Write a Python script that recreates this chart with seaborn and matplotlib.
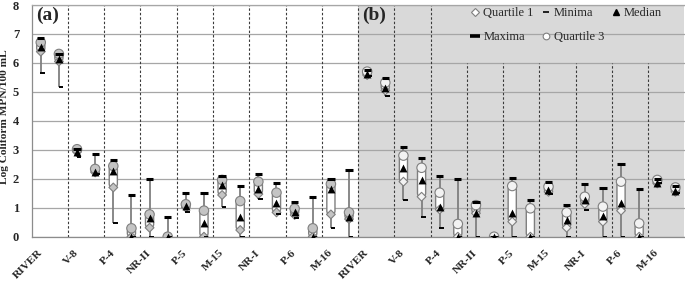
import numpy as np
import pandas as pd
import matplotlib
matplotlib.use("Agg")
import matplotlib.pyplot as plt
import seaborn as sns
from matplotlib.patches import FancyBboxPatch
from matplotlib.lines import Line2D

# ---------------- data ----------------
sites = ["RIVER", "V-8", "P-4", "NR-II", "P-5", "M-15", "NR-I", "P-6", "M-16"]

maxima_a = [6.87, 6.30, 3.03, 2.84, 2.65, 1.44, 1.98, 0.69, 1.50, 1.52, 2.11, 1.75, 2.16, 1.86, 1.21, 1.38, 1.98, 2.32]
q3_a     = [6.71, 6.31, 3.02, 2.34, 2.44, 0.29, 0.77, 0.00, 1.12, 0.90, 1.96, 1.23, 1.90, 1.52, 0.97, 0.29, 1.82, 0.84]
median_a = [6.54, 6.12, 2.93, 2.25, 2.28, 0.00, 0.63, 0.00, 1.05, 0.48, 1.78, 0.67, 1.65, 1.17, 0.85, 0.00, 1.66, 0.69]
q1_a     = [6.39, 6.05, 2.93, 2.22, 1.70, 0.00, 0.31, 0.00, 1.01, 0.00, 1.44, 0.23, 1.47, 0.84, 0.75, 0.00, 0.77, 0.61]
minima_a = [5.66, 5.16, 2.75, 2.15, 0.48, 0.00, 0.00, 0.00, 0.87, 0.00, 1.04, 0.00, 1.29, 0.80, 0.63, 0.00, 0.29, 0.00]

maxima_b = [5.75, 5.49, 3.08, 2.73, 2.11, 1.98, 1.21, 0.00, 2.04, 1.27, 1.88, 1.09, 1.82, 1.69, 2.51, 1.63, 1.98, 1.75]
q3_b     = [5.70, 5.32, 2.80, 2.38, 1.52, 0.44, 1.09, 0.00, 1.75, 0.98, 1.73, 0.84, 1.38, 1.04, 1.90, 0.46, 1.96, 1.70]
median_b = [5.62, 5.13, 2.38, 1.96, 1.01, 0.00, 0.83, 0.00, 0.81, 0.00, 1.61, 0.58, 1.27, 0.71, 1.15, 0.00, 1.86, 1.57]
q1_b     = [5.58, 5.05, 1.90, 1.38, 0.94, 0.00, 0.81, 0.00, 0.52, 0.00, 1.55, 0.31, 1.13, 0.52, 0.90, 0.00, 1.84, 1.55]
minima_b = [5.55, 4.86, 1.27, 0.69, 0.29, 0.00, 0.00, 0.00, 0.00, 0.00, 1.46, 0.00, 0.92, 0.00, 0.00, 0.00, 1.84, 1.50]

labels = sites + sites
panel_labels = ["(a)", "(b)"]

# ---------------- table ----------------
n = len(maxima_a) + len(maxima_b)
df = pd.DataFrame({
    "pos": np.arange(n),
    "panel": ["a"] * len(maxima_a) + ["b"] * len(maxima_b),
    "maxima": maxima_a + maxima_b,
    "q3": q3_a + q3_b,
    "median": median_a + median_b,
    "q1": q1_a + q1_b,
    "minima": minima_a + minima_b,
})

sns.set_style("white")
plt.rcParams["font.family"] = ["Liberation Serif", "DejaVu Serif"]

fig = plt.figure(figsize=(6.85, 2.83), dpi=100)
ax = fig.add_axes([31.7 / 685, 1 - 236.7 / 283, (684.5 - 31.7) / 685, (236.7 - 5) / 283])
ax.set_xlim(-0.5, n - 0.5)
ax.set_ylim(0, 8)

# panel (b) background
ax.axvspan(len(maxima_a) - 0.5, n - 0.5, color="#d9d9d9", lw=0, zorder=0.2)

ax.set_axisbelow(True)
ax.yaxis.grid(True, color="#a6a6a6", lw=0.9)
ax.xaxis.grid(False)

for s in ["left", "bottom", "top"]:
    ax.spines[s].set_color("#8c8c8c")
    ax.spines[s].set_linewidth(0.9)
ax.spines["top"].set_color("#a6a6a6")
ax.spines["right"].set_visible(False)

# category separators
bounds = np.arange(1.5, n - 1, 2)
for b in bounds:
    top = 6 if b > 22 else 8
    ax.vlines(b, 0, top, colors="#3a3a3a", linestyles=(0, (2.2, 1.8)), lw=0.8, zorder=1.5)

# whiskers
ax.vlines(df["pos"], df["minima"], df["maxima"], colors="#7f7f7f", lw=1.3, zorder=3)

# boxes (rounded)
asp = 0.626
bw = 0.45
for x, lo, hi in zip(df["pos"], df["q1"], df["q3"]):
    h = hi - lo
    if h <= 0:
        continue
    r = min(0.2, bw / 2, h / asp / 2)
    p = FancyBboxPatch((x - bw / 2, lo), bw, h,
                       boxstyle=f"round,pad=0,rounding_size={r}",
                       mutation_aspect=asp, fc="white", ec="#7f7f7f", lw=1.0, zorder=4)
    ax.add_patch(p)

# markers
sns.scatterplot(data=df, x="pos", y="q1", hue="panel", palette={"a": "#c4c4c4", "b": "#f2f2f2"},
                marker="D", s=20, edgecolor="#7f7f7f", linewidth=0.8, zorder=6, ax=ax, legend=False)
sns.scatterplot(data=df, x="pos", y="q3", hue="panel", palette={"a": "#c4c4c4", "b": "#f2f2f2"},
                marker="o", s=46, edgecolor="#7f7f7f", linewidth=0.8, zorder=6, ax=ax, legend=False)
sns.scatterplot(data=df, x="pos", y="median", color="black", marker="^", s=32,
                linewidth=0, zorder=7, ax=ax, legend=False)
ax.hlines(df["maxima"], df["pos"] - 0.2, df["pos"] + 0.2, colors="black", lw=2.2, zorder=8)
ax.hlines(df["minima"], df["pos"] - 0.02, df["pos"] + 0.24, colors="black", lw=1.4, zorder=8)

# axes ticks/labels
ax.set_xticks(np.arange(-0.5, n, 1))
ax.set_xticklabels([])
ax.tick_params(axis="x", which="major", length=4, color="#8c8c8c", direction="out")
ax.set_xticks(np.arange(0, n, 2), minor=True)
ax.set_xticklabels(labels, minor=True, rotation=45, ha="right", va="center",
                   rotation_mode="anchor", fontweight="bold", fontsize=8.2)
ax.tick_params(axis="x", which="minor", length=0, pad=10.5)

ax.set_yticks(range(0, 9))
ax.set_yticklabels([str(v) for v in range(0, 9)], fontweight="bold", fontsize=9)
ax.tick_params(axis="y", length=3, color="#8c8c8c", direction="out", pad=6)
ax.set_xlabel("")
ax.set_ylabel("Log Coliform MPN/100 mL", fontweight="bold", fontsize=8.2)
ax.yaxis.set_label_coords(-0.035, 0.52)

ax.text(-0.25, 7.64, panel_labels[0], fontsize=14, fontweight="bold", ha="left", va="center", zorder=9)
ax.text(17.72, 7.64, panel_labels[1], fontsize=14, fontweight="bold", ha="left", va="center", zorder=9)

# legend
h_q1 = Line2D([], [], ls="none", marker="D", ms=3.8, mfc="white", mec="#7f7f7f", mew=0.8)
h_max = Line2D([], [], ls="none", marker="_", ms=7, mew=2.6, color="black")
h_min = Line2D([], [], ls="none", marker="_", ms=4, mew=1.2, color="black")
h_q3 = Line2D([], [], ls="none", marker="o", ms=4.8, mfc="white", mec="#7f7f7f", mew=0.8)
h_med = Line2D([], [], ls="none", marker="^", ms=5, color="black")
ax.legend([h_q1, h_max, h_min, h_q3, h_med],
          ["Quartile 1", "Maxima", "Minima", "Quartile 3", "Median"],
          ncol=3, loc="upper left", bbox_to_anchor=(0.665, 1.012), frameon=False,
          fontsize=9, handlelength=0.7, handletextpad=0.3, columnspacing=0.6,
          labelspacing=0.95, borderaxespad=0.0)

fig.savefig("out.png", dpi=100)
